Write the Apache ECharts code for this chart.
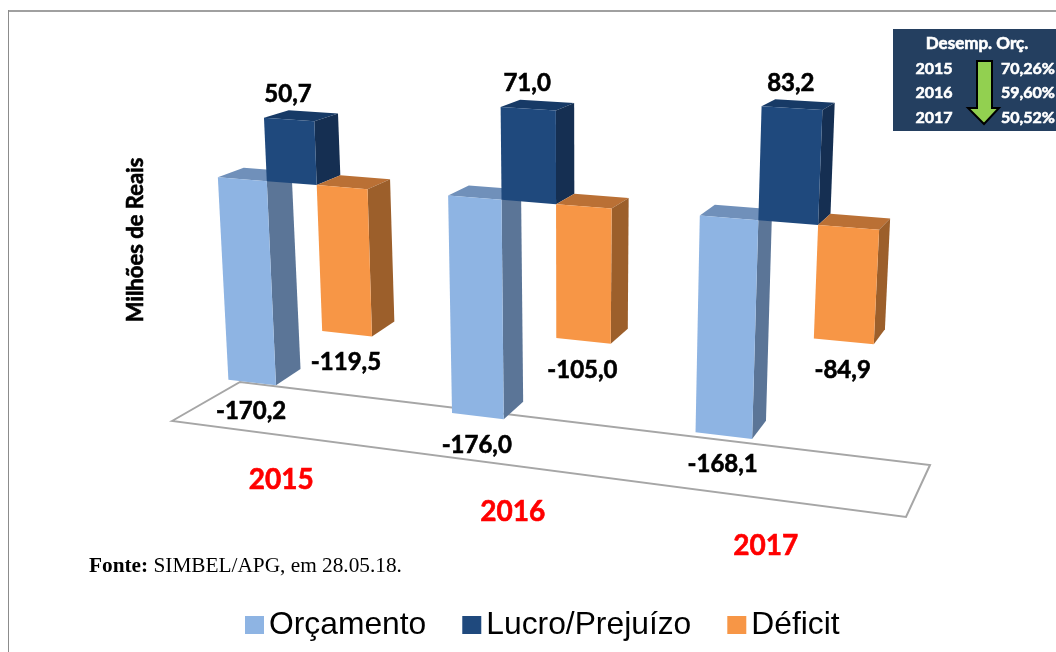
<!DOCTYPE html>
<html>
<head>
<meta charset="utf-8">
<script src="https://cdn.jsdelivr.net/npm/echarts@6/dist/echarts.min.js"></script>
<style>
    html, body { margin: 0; padding: 0; background: #fff; }
    #main { width: 1056px; height: 652px; }
</style>
</head>
<body>
<div id="main"></div>
<script>
var years = ['2015', '2016', '2017'];
var orcamento = [-170.2, -176.0, -168.1];
var lucro = [50.7, 71.0, 83.2];
var deficit = [-119.5, -105.0, -84.9];
var perfValues = ['70,26%', '59,60%', '50,52%'];

var colors = {
    'Orçamento': { front: '#8eb4e3', top: '#7090ba', side: '#5b7597' },
    'Lucro/Prejuízo': { front: '#1f497d', top: '#173a66', side: '#152f52' },
    'Déficit': { front: '#f79646', top: '#ba7035', side: '#9c5f2b' }
};
var barW = 0.22;
var labelFont = 'bold 24px Lato';

// the chart plane is tilted, so the grid rectangle is mapped on this quad
var grid = { left: 200, top: 60, width: 700, height: 400 };
var quad = [[212, 65], [885, 104], [868, 468], [229, 391]];

function makeProjection(g, q) {
    var dx1 = q[1][0] - q[2][0], dx2 = q[3][0] - q[2][0], sx = q[0][0] - q[1][0] + q[2][0] - q[3][0];
    var dy1 = q[1][1] - q[2][1], dy2 = q[3][1] - q[2][1], sy = q[0][1] - q[1][1] + q[2][1] - q[3][1];
    var det = dx1 * dy2 - dx2 * dy1;
    var h1 = (sx * dy2 - dx2 * sy) / det;
    var h2 = (dx1 * sy - sx * dy1) / det;
    var a = q[1][0] - q[0][0] + h1 * q[1][0], b = q[3][0] - q[0][0] + h2 * q[3][0];
    var d = q[1][1] - q[0][1] + h1 * q[1][1], e = q[3][1] - q[0][1] + h2 * q[3][1];
    return function (p) {
        var u = (p[0] - g.left) / g.width, v = (p[1] - g.top) / g.height;
        var w = h1 * u + h2 * v + 1;
        return [(a * u + b * v + q[0][0]) / w, (d * u + e * v + q[0][1]) / w];
    };
}
var project = makeProjection(grid, quad);

// back corner of a bar, depth shrinks to the right and grows to the bottom
function back(p) {
    return [p[0] + 24 - 0.0224 * (p[0] - 300), p[1] - (7 + 0.033 * (p[1] - 100))];
}

function face(points, color) {
    return { type: 'polygon', shape: { points: points }, style: { fill: color } };
}

// text style with a thin outline, Lato bold is lighter than the original font
function boldText(x, y, text, font, fill, align) {
    return {
        x: x, y: y, text: text, font: font, fill: fill,
        stroke: fill, lineWidth: 0.6,
        textAlign: align || 'center', textVerticalAlign: 'middle'
    };
}

function renderBar(params, api) {
    var i = api.value(0), v = api.value(1);
    var c = colors[params.seriesName];
    var mid = i + (params.seriesIndex - 1) * barW;
    var pt = function (u, val) { return project(api.coord([u, val])); };
    var l = mid - barW / 2, r = mid + barW / 2;
    var hi = Math.max(v, 0), lo = Math.min(v, 0);
    var tl = pt(l, hi), tr = pt(r, hi), br = pt(r, lo), bl = pt(l, lo);
    var anchor = pt(mid, v);
    var text = v.toFixed(1).replace('.', ',');
    return {
        type: 'group',
        children: [
            face([tl, tr, back(tr), back(tl)], c.top),
            face([tr, br, back(br), back(tr)], c.side),
            face([tl, tr, br, bl], c.front),
            {
                type: 'text',
                style: boldText(anchor[0] - 1, anchor[1] + (v > 0 ? -25 : 29), text, labelFont, '#000')
            }
        ]
    };
}

function renderYear(params, api) {
    var i = api.value(0);
    var p = project(api.coord([i - 0.075 + (i - 1) * 0.03, -253]));
    return { type: 'text', style: boldText(p[0], p[1], years[i], 'bold 28px Lato', '#ff0000') };
}

function pairs(values) {
    return values.map(function (v, i) { return [i, v]; });
}

function barSeries(name, values) {
    return {
        name: name, type: 'custom', renderItem: renderBar, data: pairs(values),
        itemStyle: { color: colors[name].front }, clip: false, silent: true
    };
}

var inset = [
    { type: 'rect', shape: { x: 893, y: 29, width: 170, height: 102 }, style: { fill: '#243f60' } },
    { type: 'text', style: boldText(977, 44, 'Desemp. Orç.', 'bold 17px Lato', '#fff') },
    {
        type: 'polygon',
        shape: { points: [[977, 61], [992, 61], [992, 108], [999, 108], [984, 124], [968, 108], [977, 108]] },
        style: { fill: '#92d050', stroke: '#000', lineWidth: 2 }
    }
];
var rowY = [69, 93, 118];
years.forEach(function (y, i) {
    inset.push({ type: 'text', style: boldText(934, rowY[i], y, 'bold 16px Lato', '#fff') });
    inset.push({ type: 'text', style: boldText(1001, rowY[i], perfValues[i], 'bold 16px Lato', '#fff', 'left') });
});

var myChart = echarts.init(document.getElementById('main'));

var option = {
    animation: false,
    backgroundColor: '#fff',
    grid: grid,
    xAxis: { type: 'value', min: -0.33, max: 2.33, show: false },
    yAxis: { type: 'value', min: -180, max: 90, show: false },
    legend: {
        left: 240, top: 604, icon: 'rect', itemWidth: 19, itemHeight: 18, itemGap: 36,
        textStyle: { fontFamily: 'Liberation Sans', fontSize: 31.8, color: '#000' },
        selectedMode: false,
        data: ['Orçamento', 'Lucro/Prejuízo', 'Déficit']
    },
    graphic: [
        { type: 'line', z: -1, shape: { x1: 8, y1: 11, x2: 1056, y2: 11 }, style: { stroke: '#a0a0a0', lineWidth: 2 } },
        { type: 'line', z: -1, shape: { x1: 8.5, y1: 10, x2: 8.5, y2: 652 }, style: { stroke: '#8c8c8c', lineWidth: 1 } },
        {
            type: 'polygon', z: -1,
            shape: { points: [[172, 421], [240, 382], [930, 465], [906, 517]] },
            style: { fill: '#fff', stroke: '#a6a6a6', lineWidth: 2 }
        },
        {
            type: 'text', rotation: Math.PI / 2, x: 136, y: 240,
            style: boldText(0, 0, 'Milhões de Reais', 'bold 22px Lato', '#000')
        },
        {
            type: 'text', x: 89, y: 566,
            style: {
                text: '{b|Fonte:} SIMBEL/APG, em 28.05.18.',
                font: '21.3px "Liberation Serif"', fill: '#000', textVerticalAlign: 'middle',
                rich: { b: { font: 'bold 21.3px "Liberation Serif"', fill: '#000' } }
            }
        }
    ].concat(inset),
    series: [
        barSeries('Orçamento', orcamento),
        barSeries('Lucro/Prejuízo', lucro),
        barSeries('Déficit', deficit),
        {
            name: 'Anos', type: 'custom', renderItem: renderYear, clip: false, silent: true,
            data: pairs(years.map(Number))
        }
    ]
};

myChart.setOption(option);
</script>
</body>
</html>
